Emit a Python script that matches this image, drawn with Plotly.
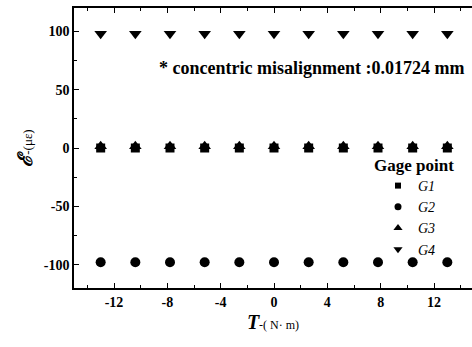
import plotly.graph_objects as go

# Data
torque = [-13, -10.4, -7.8, -5.2, -2.6, 0, 2.6, 5.2, 7.8, 10.4, 13]
G1 = [0, 0, 0, 0, 0, 0, 0, 0, 0, 0, 0]
G2 = [-98, -98, -98, -98, -98, -98, -98, -98, -98, -98, -98]
G3 = [1.5, 1.5, 1.5, 1.5, 1.5, 1.5, 1.5, 1.5, 1.5, 1.5, 1.5]
G4 = [98, 98, 98, 98, 98, 98, 98, 98, 98, 98, 98]
x_tickvals = [-12, -8, -4, 0, 4, 8, 12]
x_ticktext = ["-12", "-8", "-4", "0", "4", "8", "12"]
y_tickvals = [-100, -50, 0, 50, 100]
y_ticktext = ["-100", "-50", "0", "50", "100"]
names = ["G1", "G2", "G3", "G4"]
series = [G1, G2, G3, G4]
symbols = ["square", "circle", "triangle-up", "triangle-down"]
sizes = [9, 10, 11, 11]
legend_sizes = [6, 7, 8, 8]

FONT = "Liberation Serif"

fig = go.Figure()
for n, s, sym, sz in zip(names, series, symbols, sizes):
    fig.add_trace(go.Scatter(x=torque, y=s, mode="markers", name=n, showlegend=False,
                             marker=dict(symbol=sym, size=sz, color="black", line=dict(width=0))))
for n, sym, sz in zip(names, symbols, legend_sizes):
    fig.add_trace(go.Scatter(x=[None], y=[None], mode="markers", name="<i>" + n + "</i>",
                             marker=dict(symbol=sym, size=sz, color="black", line=dict(width=0))))

axis_common = dict(showline=True, linecolor="black", linewidth=1.5, ticks="inside",
                   tickcolor="black", tickwidth=1.2, ticklen=5, showgrid=False, zeroline=False,
                   tickfont=dict(family=FONT, size=14, color="black", weight="bold"))

fig.update_xaxes(range=[-15, 14.85], tickvals=x_tickvals, ticktext=x_ticktext, mirror="ticks",
                 minor=dict(ticks="inside", tickvals=[-14, -10, -6, -2, 2, 6, 10, 14], ticklen=3,
                            tickcolor="black", tickwidth=1.2),
                 title=dict(text="<b><i><span style='font-size:20px'>T</span></i></b>-( N· m)",
                            font=dict(family=FONT, size=12, color="black"), standoff=12),
                 **axis_common)
fig.update_yaxes(range=[-120, 120], tickvals=y_tickvals, ticktext=y_ticktext,
                 minor=dict(ticks="inside", tickvals=[-75, -25, 25, 75], ticklen=3,
                            tickcolor="black", tickwidth=1.2),
                 title=dict(text="<b><i><span style='font-size:20px'>ℰ</span></i></b>-(με)",
                            font=dict(family=FONT, size=13, color="black"), standoff=8),
                 **axis_common)

fig.add_annotation(x=0.985, y=(288 - 68) / 280, xref="paper", yref="paper", xanchor="right",
                   yanchor="middle",
                   text="<b>* concentric misalignment :0.01724 mm</b>", showarrow=False,
                   font=dict(family=FONT, size=18, color="black"))
fig.add_annotation(x=(414 - 74) / 398, y=(288 - 165) / 280, xref="paper", yref="paper",
                   xanchor="center", yanchor="middle", text="<b>Gage point</b>", showarrow=False,
                   font=dict(family=FONT, size=17, color="black"))

fig.update_layout(width=472, height=347, margin=dict(l=74, r=0, t=8, b=59),
                  plot_bgcolor="white", paper_bgcolor="white",
                  legend=dict(x=(378 - 74) / 398, y=(288 - 170) / 280, xanchor="left", yanchor="top",
                              bgcolor="rgba(0,0,0,0)", borderwidth=0, tracegroupgap=0,
                              font=dict(family=FONT, size=14, color="black")))

fig.write_html("out.html")
